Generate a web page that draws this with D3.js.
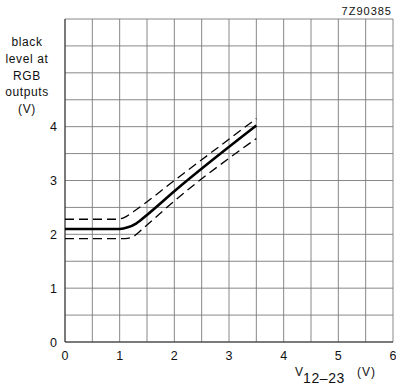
<!DOCTYPE html>
<html>
<head>
<meta charset="utf-8">
<script src="https://cdn.jsdelivr.net/npm/d3@7"></script>
<style>
  body { margin: 0; background: #fff; }
  svg { display: block; font-family: "Liberation Sans", Arial, sans-serif; }
</style>
</head>
<body>
<div id="chart"></div>
<script>
// ----- data -----
const xTicks = [0, 1, 2, 3, 4, 5, 6];
const yTicks = [0, 1, 2, 3, 4];
const yTitleLines = ["black", "level at", "RGB", "outputs", "(V)"];
const figureCode = "7Z90385";

// typical curve
const typicalX = [0, 1.0, 1.15, 1.3, 1.5, 2.0, 3.5];
const typicalY = [2.1, 2.1, 2.13, 2.2, 2.36, 2.8, 4.02];

// upper spread (dashed)
const upperX = [0, 0.95, 1.1, 1.25, 2.0, 3.5];
const upperY = [2.28, 2.28, 2.32, 2.42, 3.0, 4.15];

// lower spread (dashed)
const lowerX = [0, 1.1, 1.25, 1.45, 2.0, 3.5];
const lowerY = [1.92, 1.92, 1.96, 2.13, 2.62, 3.78];

const w = 396;
const h = 385;
const margin = { top: 19, right: 3, bottom: 43, left: 65 };

const svg = d3.select("#chart").append("svg")
  .attr("width", w)
  .attr("height", h);

const x = d3.scaleLinear()
  .domain([0, 6])
  .range([margin.left, w - margin.right]);

const y = d3.scaleLinear()
  .domain([0, 6])
  .range([h - margin.bottom, margin.top]);

// ----- grid every 0.5 -----
const gridVals = d3.range(0, 6.01, 0.5);

svg.append("g")
  .selectAll("line")
  .data(gridVals)
  .join("line")
  .attr("x1", d => x(d))
  .attr("x2", d => x(d))
  .attr("y1", y(0))
  .attr("y2", y(6))
  .attr("stroke", "#7a7a7a")
  .attr("stroke-width", 0.9);

svg.append("g")
  .selectAll("line")
  .data(gridVals)
  .join("line")
  .attr("x1", x(0))
  .attr("x2", x(6))
  .attr("y1", d => y(d))
  .attr("y2", d => y(d))
  .attr("stroke", "#7a7a7a")
  .attr("stroke-width", 0.9);

// frame on left and bottom a bit darker
svg.append("path")
  .attr("d", `M${x(0)},${y(6)}V${y(0)}H${x(6)}`)
  .attr("fill", "none")
  .attr("stroke", "#333")
  .attr("stroke-width", 1);

// ----- tick labels -----
svg.append("g")
  .selectAll("text")
  .data(xTicks)
  .join("text")
  .attr("x", d => x(d))
  .attr("y", y(0) + 18)
  .attr("text-anchor", "middle")
  .attr("font-size", 12.5)
  .attr("fill", "#111")
  .text(d => d);

svg.append("g")
  .selectAll("text")
  .data(yTicks)
  .join("text")
  .attr("x", x(0) - 8)
  .attr("y", d => y(d))
  .attr("dy", "0.36em")
  .attr("text-anchor", "end")
  .attr("font-size", 12.5)
  .attr("fill", "#111")
  .text(d => d);

// ----- axis titles -----
svg.append("g")
  .selectAll("text")
  .data(yTitleLines)
  .join("text")
  .attr("x", 27)
  .attr("y", (d, i) => 46 + i * 16.8)
  .attr("text-anchor", "middle")
  .attr("font-size", 12)
  .attr("letter-spacing", 0.6)
  .attr("fill", "#111")
  .text(d => d);

const xTitle = svg.append("text")
  .attr("x", 295)
  .attr("y", 376)
  .attr("font-size", 12)
  .attr("fill", "#111");

xTitle.append("tspan").text("V");
xTitle.append("tspan")
  .attr("dy", 7)
  .attr("font-size", 14)
  .attr("letter-spacing", 0.6)
  .text("12\u201323");
xTitle.append("tspan")
  .attr("x", 357)
  .attr("dy", -7)
  .attr("letter-spacing", 1)
  .text("(V)");

svg.append("text")
  .attr("x", w - 4)
  .attr("y", 15)
  .attr("text-anchor", "end")
  .attr("font-size", 11)
  .attr("letter-spacing", 1)
  .attr("fill", "#111")
  .text(figureCode);

// ----- curves -----
const line = d3.line()
  .x(d => x(d[0]))
  .y(d => y(d[1]))
  .curve(d3.curveMonotoneX);

const curves = [
  { xs: upperX, ys: upperY, width: 1.3, dash: "9 5" },
  { xs: lowerX, ys: lowerY, width: 1.3, dash: "9 5" },
  { xs: typicalX, ys: typicalY, width: 2.6, dash: null }
];

curves.forEach(c => {
  svg.append("path")
    .datum(d3.zip(c.xs, c.ys))
    .attr("fill", "none")
    .attr("stroke", "#000")
    .attr("stroke-width", c.width)
    .attr("stroke-dasharray", c.dash)
    .attr("d", line);
});
</script>
</body>
</html>
